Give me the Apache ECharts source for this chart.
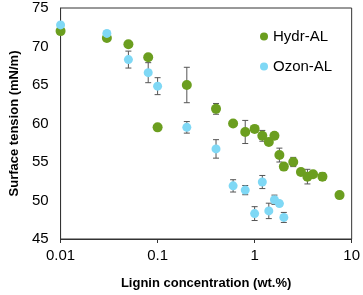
<!DOCTYPE html>
<html><head><meta charset="utf-8">
<script src="https://cdn.jsdelivr.net/npm/echarts@6/dist/echarts.min.js"></script>
<style>html,body{margin:0;padding:0;background:#fff}#c{width:363px;height:295px}</style>
</head><body><div id="c"></div>
<script>
var xTicks = [0.01, 0.1, 1, 10];
var yTicks = [45, 50, 55, 60, 65, 70, 75];

var hydrX   = [0.01, 0.03, 0.05, 0.08, 0.1, 0.2, 0.4, 0.6, 0.8, 1.0, 1.2, 1.4, 1.6, 1.8, 2.0, 2.5, 3.0, 3.5, 4.0, 5.0, 7.5];
var hydrY   = [72.0, 71.1, 70.3, 68.6, 59.5, 65.0, 61.9, 60.0, 58.9, 59.3, 58.4, 57.6, 58.4, 55.9, 54.4, 55.0, 53.7, 53.1, 53.4, 53.1, 50.7];
var hydrErr = [0, 0.2, 0, 0, 0, 2.3, 0.7, 0.3, 1.5, 0, 0.7, 0.3, 0, 0.9, 0, 0.6, 0.3, 0.95, 0.3, 0.5, 0];

var ozonX   = [0.01, 0.03, 0.05, 0.08, 0.1, 0.2, 0.4, 0.6, 0.8, 1.0, 1.2, 1.4, 1.6, 1.8, 2.0];
var ozonY   = [72.8, 71.7, 68.3, 66.6, 64.85, 59.5, 56.7, 51.9, 51.35, 48.3, 52.4, 48.65, 50.1, 49.6, 47.8];
var ozonErr = [0, 0.3, 1.1, 1.3, 1.1, 0.75, 1.2, 0.8, 0.6, 0.9, 0.85, 1.0, 0.6, 0.3, 0.65];

function pts(xs, ys) { return xs.map(function (x, i) { return [x, ys[i]]; }); }
function errs(xs, ys, es) {
  var out = [];
  xs.forEach(function (x, i) { if (es[i] > 0) out.push([x, ys[i] - es[i], ys[i] + es[i]]); });
  return out;
}
function errRender(params, api) {
  var lo = api.coord([api.value(0), api.value(1)]);
  var hi = api.coord([api.value(0), api.value(2)]);
  var w = 3;
  var st = { stroke: '#555', lineWidth: 1 };
  return { type: 'group', children: [
    { type: 'line', shape: { x1: lo[0], y1: lo[1], x2: hi[0], y2: hi[1] }, style: st },
    { type: 'line', shape: { x1: lo[0] - w, y1: lo[1], x2: lo[0] + w, y2: lo[1] }, style: st },
    { type: 'line', shape: { x1: hi[0] - w, y1: hi[1], x2: hi[0] + w, y2: hi[1] }, style: st }
  ]};
}

var green = '#6B9E1F', blue = '#7FD8F5';
var font = 'Liberation Sans';
var chart = echarts.init(document.getElementById('c'), null, { renderer: 'canvas' });
chart.setOption({
  animation: false,
  backgroundColor: '#fff',
  textStyle: { fontFamily: font },
  grid: { left: 59, right: 11, top: 8, bottom: 53, show: true, borderColor: '#333', borderWidth: 1 },
  legend: {
    orient: 'vertical', left: 255, top: 24, itemGap: 15,
    icon: 'circle', itemWidth: 8, itemHeight: 8,
    textStyle: { fontSize: 15, color: '#000', fontFamily: font },
    data: ['Hydr-AL', 'Ozon-AL']
  },
  xAxis: {
    type: 'log', logBase: 10, min: xTicks[0], max: xTicks[xTicks.length - 1],
    name: 'Lignin concentration (wt.%)', nameLocation: 'middle', nameGap: 38,
    nameTextStyle: { fontSize: 13, fontWeight: 'bold', color: '#000', fontFamily: font },
    axisLine: { lineStyle: { color: '#333' } },
    axisTick: { show: true, length: 4, lineStyle: { color: '#333' } },
    axisLabel: { fontSize: 15, color: '#000', margin: 9,
      formatter: function (v) { var r = xTicks.filter(function (t) { return Math.abs(t - v) / t < 1e-6; }); return r.length ? String(r[0]) : ''; } },
    splitLine: { show: false }
  },
  yAxis: {
    type: 'value', min: yTicks[0], max: yTicks[yTicks.length - 1], interval: 5,
    name: 'Surface tension (mN/m)', nameLocation: 'middle', nameGap: 38,
    nameTextStyle: { fontSize: 13, fontWeight: 'bold', color: '#000', fontFamily: font },
    axisLine: { show: true, lineStyle: { color: '#333' } },
    axisTick: { show: false },
    axisLabel: { fontSize: 15, color: '#000', margin: 12 },
    splitLine: { show: false }
  },
  series: [
    { type: 'custom', name: 'errH', renderItem: errRender, data: errs(hydrX, hydrY, hydrErr), z: 1, silent: true },
    { type: 'custom', name: 'errO', renderItem: errRender, data: errs(ozonX, ozonY, ozonErr), z: 1, silent: true },
    { type: 'scatter', name: 'Hydr-AL', data: pts(hydrX, hydrY), symbolSize: 10, itemStyle: { color: green, opacity: 1 }, z: 3 },
    { type: 'scatter', name: 'Ozon-AL', data: pts(ozonX, ozonY), symbolSize: 9, itemStyle: { color: blue, opacity: 1 }, z: 4 }
  ]
});
</script></body></html>
